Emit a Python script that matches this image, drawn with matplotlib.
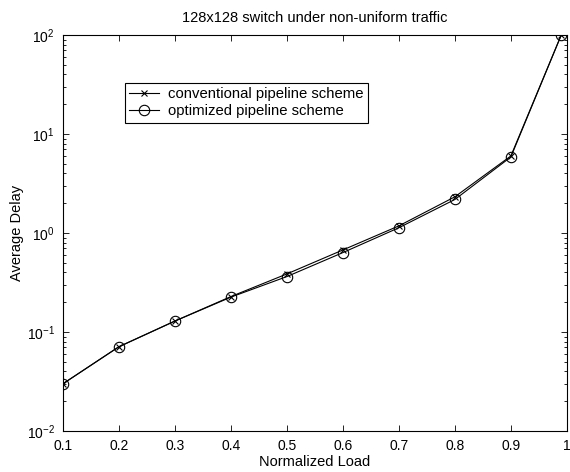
import numpy as np
import matplotlib.pyplot as plt
from matplotlib.ticker import LogLocator, FixedLocator, NullFormatter

plt.rcParams['font.family'] = ['Liberation Sans', 'DejaVu Sans']

load = [0.1, 0.2, 0.3, 0.4, 0.5, 0.6, 0.7, 0.8, 0.9, 0.99]
conventional = [0.030, 0.071, 0.129, 0.228, 0.386, 0.674, 1.18, 2.32, 6.0, 100]
optimized = [0.030, 0.071, 0.129, 0.225, 0.363, 0.634, 1.13, 2.18, 5.86, 100]
xticks = [0.1, 0.2, 0.3, 0.4, 0.5, 0.6, 0.7, 0.8, 0.9, 1]
xtick_labels = ['0.1', '0.2', '0.3', '0.4', '0.5', '0.6', '0.7', '0.8', '0.9', '1']

fig = plt.figure(figsize=(5.7, 4.72), dpi=100)
ax = fig.add_axes([0.1105, 0.0869, 0.884, 0.839])

ax.semilogy(load, conventional, 'k-', marker='x', markersize=4.5, linewidth=0.8,
            markeredgewidth=0.8, label='conventional pipeline scheme')
ax.semilogy(load, optimized, 'k-', marker='o', markersize=7.5, linewidth=0.8,
            markerfacecolor='none', markeredgewidth=0.8, label='optimized pipeline scheme')

ax.set_xlim(0.1, 1)
ax.set_ylim(1e-2, 1e2)
ax.xaxis.set_major_locator(FixedLocator(xticks))
ax.set_xticklabels(xtick_labels)
ax.yaxis.set_major_locator(LogLocator(base=10, numticks=10))
ax.yaxis.set_minor_locator(LogLocator(base=10, subs=np.arange(2, 10), numticks=10))
ax.yaxis.set_minor_formatter(NullFormatter())

ax.tick_params(which='both', direction='in', top=True, right=True, labelsize=10,
               width=0.6, color='black')
ax.tick_params(which='major', length=4)
ax.tick_params(which='minor', length=2.5)
ax.tick_params(axis='x', pad=6)
ax.tick_params(axis='y', pad=6)
for s in ax.spines.values():
    s.set_linewidth(0.8)

ax.set_xlabel('Normalized Load', fontsize=10.5, labelpad=1)
ax.set_ylabel('Average Delay', fontsize=10.5, labelpad=2)
ax.set_title('128x128 switch under non-uniform traffic', fontsize=10.5, pad=9)

leg = ax.legend(loc='upper left', bbox_to_anchor=(0.123, 0.879), borderaxespad=0,
                fancybox=False, edgecolor='black', framealpha=1, fontsize=10.7,
                handlelength=2.0, borderpad=0.3, labelspacing=0.2, handletextpad=0.6)
leg.get_frame().set_linewidth(0.8)

fig.savefig('out.png', dpi=100)
